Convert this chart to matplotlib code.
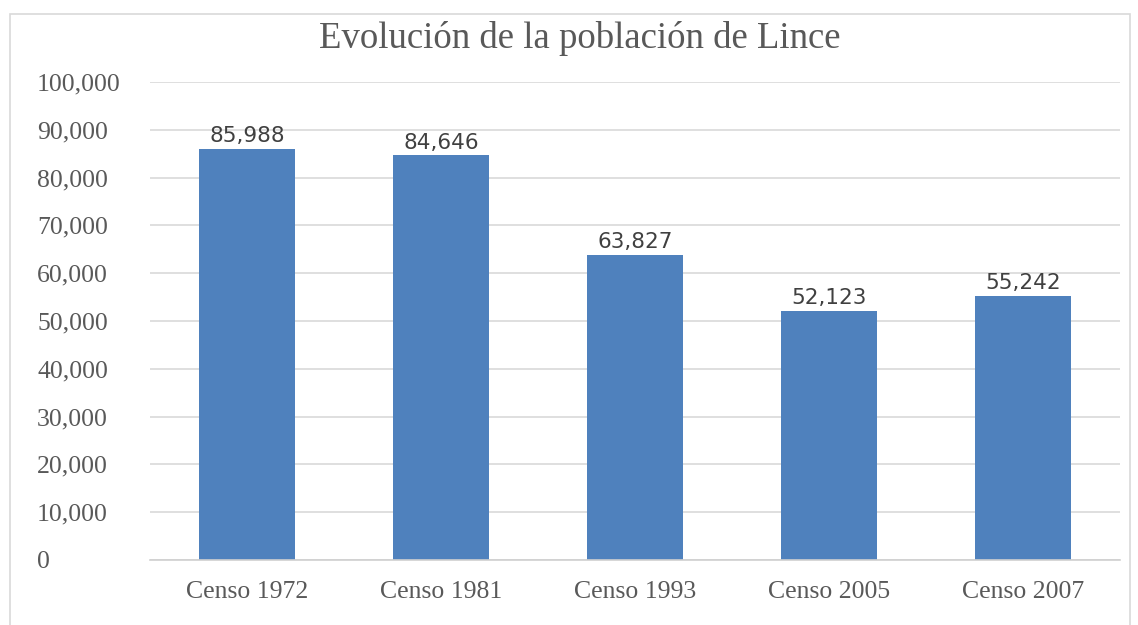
import matplotlib.pyplot as plt
from matplotlib.patches import Rectangle
from matplotlib.ticker import FuncFormatter

# datos del grafico
censos = ['Censo 1972', 'Censo 1981', 'Censo 1993', 'Censo 2005', 'Censo 2007']
poblacion = [85988, 84646, 63827, 52123, 55242]

color_barra = '#4F81BD'
gris_texto = '#595959'

fig = plt.figure(figsize=(11.38, 6.25), dpi=100)
# marco del grafico
fig.patches.append(Rectangle((10 / 1138, -0.01), 1120 / 1138, 1 - 14 / 625 + 0.01,
                             transform=fig.transFigure, fill=False,
                             edgecolor='#D9D9D9', linewidth=1.2))

ax = fig.add_axes([150 / 1138, 1 - 560 / 625, 970 / 1138, (560 - 82) / 625])

x = range(len(censos))
barras = ax.bar(x, poblacion, width=0.495, color=color_barra, zorder=3)

for xi, v in zip(x, poblacion):
    ax.text(xi, v + 600, f'{v:,}', ha='center', va='bottom',
            fontsize=15.5, color='#404040', family='DejaVu Sans')

ax.set_xlim(-0.5, len(censos) - 0.5)
ax.set_ylim(0, 100000)
ax.set_yticks(range(0, 100001, 10000))
ax.yaxis.set_major_formatter(FuncFormatter(lambda v, p: f'{int(v):,}'))
ax.set_xticks(list(x))
ax.set_xticklabels(censos)

ax.grid(axis='y', color='#D9D9D9', linewidth=1.2, zorder=0)
for s in ['top', 'right', 'left']:
    ax.spines[s].set_visible(False)
ax.spines['bottom'].set_color('#D0D0D0')
ax.spines['bottom'].set_linewidth(1.2)
ax.spines['bottom'].set_zorder(4)

ax.tick_params(axis='both', length=0, colors=gris_texto)
ax.tick_params(axis='x', pad=15)
for lab in ax.get_yticklabels() + ax.get_xticklabels():
    lab.set_family('Liberation Serif')
    lab.set_fontsize(18.5)
    lab.set_color(gris_texto)
for lab in ax.get_yticklabels():
    lab.set_horizontalalignment('left')
    lab.set_x(-108 / 970)

fig.text(580 / 1138, 1 - 38 / 625, 'Evolución de la población de Lince',
         ha='center', va='center', fontsize=26.5, color=gris_texto,
         family='Liberation Serif')

fig.savefig('out.png', dpi=100, facecolor='white')
